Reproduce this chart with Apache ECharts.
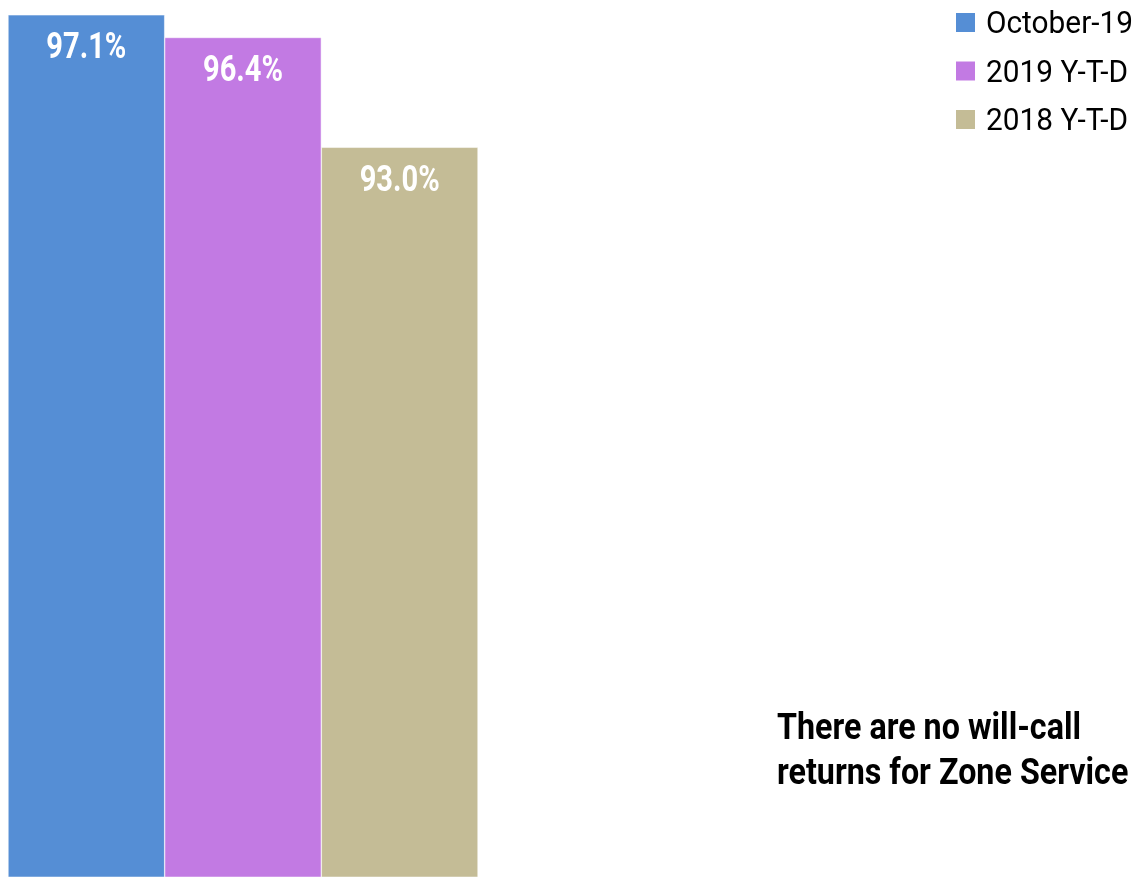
<!DOCTYPE html>
<html><head><meta charset="utf-8">
<script src="https://cdn.jsdelivr.net/npm/echarts@6/dist/echarts.min.js"></script>
<style>html,body{margin:0;padding:0;background:#fff}#c{width:1138px;height:877px}</style>
</head><body><div id="c"></div>
<script>
const categories = ['Zone Service'];
const seriesNames = ['October-19', '2019 Y-T-D', '2018 Y-T-D'];
const seriesValues = [[97.1], [96.4], [93.0]];
const colors = ['#558ED5', '#C27AE3', '#C4BC96'];
const noteLines = ['There are no will-call', 'returns for Zone Service'];
const FONT = "Roboto, 'Noto Sans', sans-serif";

const mctx = document.createElement('canvas').getContext('2d');
function textW(t, weight, size) { mctx.font = weight + ' ' + size + 'px ' + FONT; return mctx.measureText(t).width; }

const chart = echarts.init(document.getElementById('c'));
chart.setOption({
  animation: false,
  grid: { left: 8, width: 470, top: 0, bottom: 0, containLabel: false },
  xAxis: { type: 'category', data: categories, show: false },
  yAxis: { type: 'value', min: 70.41, max: 97.56, show: false, splitLine: { show: false } },
  series: seriesNames.map((n, i) => ({
    name: n, type: 'bar', data: seriesValues[i],
    barGap: '0%', barCategoryGap: '0%',
    itemStyle: { color: colors[i], borderColor: '#ffffff', borderWidth: 0.5 },
    label: { show: false }
  }))
});

// condensed-looking text (narrow fonts are not installed), scaled horizontally
const LBL_SIZE = 37, LEG_SIZE = 32, NOTE_SIZE = 36;
const lblScale = 80 / textW('97.1%', 'bold', LBL_SIZE);
const legScale = 147 / textW('October-19', 'normal', LEG_SIZE);
const noteScale = 304 / textW(noteLines[0], 'bold', NOTE_SIZE);

const g = [];
seriesNames.forEach((n, i) => {
  const lay = chart.getModel().getSeriesByIndex(i).getData().getItemLayout(0);
  const top = Math.min(lay.y, lay.y + lay.height);
  const cx = lay.x + lay.width / 2;
  g.push({
    type: 'text', x: cx, y: top + 34, scaleX: lblScale, z: 10,
    style: { text: seriesValues[i][0].toFixed(1) + '%', x: 0, y: 0, align: 'center', verticalAlign: 'middle',
      font: 'bold ' + LBL_SIZE + 'px ' + FONT, fill: '#ffffff' }
  });
  const ly = 25 + i * 48.5;
  g.push({ type: 'rect', shape: { x: 956, y: ly - 12, width: 19, height: 19 }, style: { fill: colors[i] } });
  g.push({
    type: 'text', x: 986, y: ly, scaleX: legScale,
    style: { text: n, x: 0, y: 0, align: 'left', verticalAlign: 'middle', font: 'normal ' + LEG_SIZE + 'px ' + FONT, fill: '#000' }
  });
});
noteLines.forEach((t, k) => {
  g.push({
    type: 'text', x: 777, y: 730 + k * 45, scaleX: noteScale,
    style: { text: t, x: 0, y: 0, align: 'left', verticalAlign: 'middle', font: 'bold ' + NOTE_SIZE + 'px ' + FONT, fill: '#000' }
  });
});
chart.setOption({ graphic: g });
</script></body></html>
